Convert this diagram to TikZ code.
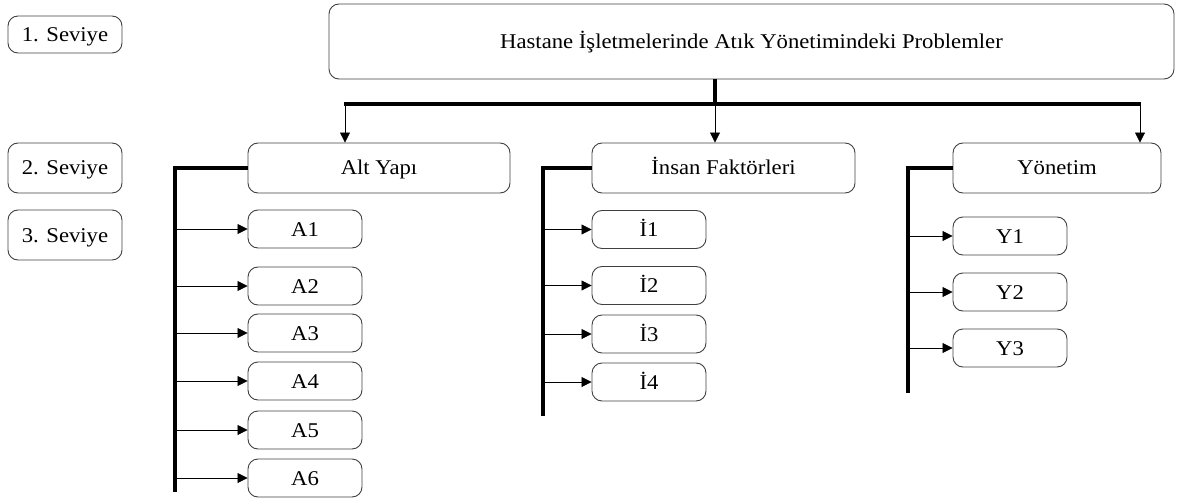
\documentclass[tikz,border=0pt]{standalone}
\usepackage{fontspec}
\setmainfont{Liberation Serif}[FakeStretch=1.08]
\usetikzlibrary{arrows.meta}
\begin{document}
\begin{tikzpicture}[x=1pt,y=-1pt,
  box/.style={draw=black!75, line width=0.9pt, rounded corners=10pt, inner sep=0pt, text height=14pt, text depth=0pt, font=\fontsize{21}{24}\selectfont},
  bar/.style={line width=4pt, line join=miter, line cap=butt},
  arr/.style={line width=0.8pt, -{Triangle[length=10pt,width=10pt]}}]
\useasboundingbox (0,0) rectangle (1178,500);
% level labels
\node[box, minimum width=114pt, minimum height=37pt] (l1) at (65,34.5) {1. Seviye};
\node[box, minimum width=114pt, minimum height=50pt] (l2) at (65,168) {2. Seviye};
\node[box, minimum width=114pt, minimum height=50pt] (l3) at (65,235) {3. Seviye};
% top
\node[box, minimum width=845pt, minimum height=75pt] (top) at (751.5,41.5) {Hastane İşletmelerinde Atık Yönetimindeki Problemler};
% level 2
\node[box, minimum width=262pt, minimum height=50pt] (alt) at (379,168) {Alt Yapı};
\node[box, minimum width=263pt, minimum height=50pt] (ins) at (723.5,168) {İnsan Faktörleri};
\node[box, minimum width=208pt, minimum height=50pt] (yon) at (1057,168) {Yönetim};
% level 3 A
\foreach \n/\y in {A1/229, A2/286, A3/333, A4/381, A5/430, A6/478}
  \node[box, minimum width=114pt, minimum height=38pt] (\n) at (305,\y) {\n};
\node[box, minimum width=114pt, minimum height=38pt] (I1) at (649,229.5) {İ1};
\node[box, minimum width=114pt, minimum height=38pt] (I2) at (649,285.5) {İ2};
\node[box, minimum width=114pt, minimum height=38pt] (I3) at (649,334) {İ3};
\node[box, minimum width=114pt, minimum height=38pt] (I4) at (649,382) {İ4};
\node[box, minimum width=114pt, minimum height=38pt] (Y1) at (1010,236) {Y1};
\node[box, minimum width=114pt, minimum height=38pt] (Y2) at (1010,292) {Y2};
\node[box, minimum width=114pt, minimum height=38pt] (Y3) at (1010,348) {Y3};
% top bus
\coordinate (stem) at (715,104);
\coordinate (busL) at (345,104);
\coordinate (busR) at (1140,104);
\draw[bar] (stem |- top.south) -- (stem);
\draw[bar] ([xshift=-1pt]busL) -- ([xshift=1pt]busR);
\draw[arr] (busL) -- (busL |- alt.north);
\draw[arr] (stem) -- (stem |- ins.north);
\draw[arr] (busR) -- (busR |- yon.north);
% brackets
\coordinate (ab) at (175,492);
\coordinate (ib) at (543,416);
\coordinate (yb) at (908,393);
\draw[bar] (alt.west) -- (alt.west -| ab) -- (ab);
\draw[bar] (ins.west) -- (ins.west -| ib) -- (ib);
\draw[bar] (yon.west) -- (yon.west -| yb) -- (yb);
\foreach \n in {A1,A2,A3,A4,A5,A6}
  \draw[arr] (\n.west -| ab) -- (\n.west);
\foreach \n in {I1,I2,I3,I4}
  \draw[arr] (\n.west -| ib) -- (\n.west);
\foreach \n in {Y1,Y2,Y3}
  \draw[arr] (\n.west -| yb) -- (\n.west);
\end{tikzpicture}
\end{document}
